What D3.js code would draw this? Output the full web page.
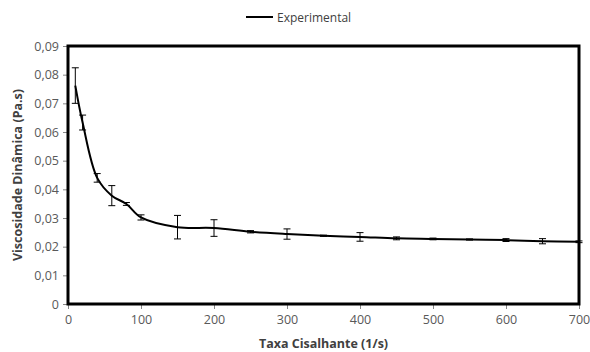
<!DOCTYPE html>
<html><head><meta charset="utf-8">
<script src="https://cdn.jsdelivr.net/npm/d3@7"></script>
<style>body{margin:0;background:#fff}svg{display:block}</style>
</head><body><svg id="c" width="590" height="352"></svg>
<script>
const shearRate = [10,20,40,60,80,100,150,200,250,300,350,400,450,500,550,600,650,700];
const viscosity = [0.0762,0.0633,0.0440,0.0378,0.0349,0.0302,0.0268,0.0265,0.0252,0.0244,0.0238,0.0234,0.0229,0.0227,0.0225,0.0223,0.0219,0.0217];
const errors = [0.0062,0.0026,0.0015,0.0035,0.0005,0.0009,0.0041,0.0029,0.0004,0.0018,0.0002,0.0015,0.0005,0.0003,0.0002,0.0005,0.0009,0.0003];
const xTicks = [0,100,200,300,400,500,600,700];
const yTicks = [0,0.01,0.02,0.03,0.04,0.05,0.06,0.07,0.08,0.09];
const seriesName = "Experimental";
const xTitle = "Taxa Cisalhante (1/s)";
const yTitle = "Viscosidade Dinâmica (Pa.s)";

const svg = d3.select("#c");
const L = 68, R = 579, T = 46, B = 304;
const x = d3.scaleLinear().domain([0,700]).range([L,R]);
const y = d3.scaleLinear().domain([0,0.09]).range([B,T]);
const font = "'Open Sans', 'Liberation Sans', sans-serif";
const fmt = d => d === 0 ? "0" : d3.format(".2f")(d).replace(".", ",");

const xa = svg.append("g").attr("transform",`translate(0,${B})`)
  .call(d3.axisBottom(x).tickValues(xTicks).tickSize(5).tickPadding(6).tickFormat(d3.format("d")));
const ya = svg.append("g").attr("transform",`translate(${L},0)`)
  .call(d3.axisLeft(y).tickValues(yTicks).tickSize(5).tickPadding(4).tickFormat(fmt));
[xa,ya].forEach(a=>{
  a.select(".domain").remove();
  a.selectAll(".tick line").attr("stroke","#868686");
  a.selectAll("text").attr("fill","#595959").style("font-family",font).style("font-size","12.5px");
});

svg.append("rect").attr("x",L).attr("y",T).attr("width",R-L).attr("height",B-T)
  .attr("fill","none").attr("stroke","#000").attr("stroke-width",3);

const data = shearRate.map((s,i)=>({s, v:viscosity[i], e:errors[i]}));
const eb = svg.append("g").attr("stroke","#000").attr("stroke-width",1);
data.forEach(d=>{
  const cx = x(d.s), y1 = y(d.v+d.e), y2 = y(d.v-d.e);
  eb.append("line").attr("x1",cx).attr("x2",cx).attr("y1",y1).attr("y2",y2);
  eb.append("line").attr("x1",cx-3.5).attr("x2",cx+3.5).attr("y1",y1).attr("y2",y1);
  eb.append("line").attr("x1",cx-3.5).attr("x2",cx+3.5).attr("y1",y2).attr("y2",y2);
});

const line = d3.line().x(d=>x(d.s)).y(d=>y(d.v)).curve(d3.curveCatmullRom.alpha(0.5));
svg.append("path").datum(data).attr("d",line).attr("fill","none").attr("stroke","#000").attr("stroke-width",2);

svg.append("line").attr("x1",246).attr("x2",273).attr("y1",17).attr("y2",17).attr("stroke","#000").attr("stroke-width",2);
svg.append("text").attr("x",277).attr("y",21.5).text(seriesName)
  .style("font-family",font).style("font-size","12px").attr("fill","#404040");

svg.append("text").attr("x",(L+R)/2).attr("y",348).attr("text-anchor","middle").text(xTitle)
  .style("font-family",font).style("font-size","12.5px").style("font-weight","bold").attr("fill","#404040");
svg.append("text").attr("transform",`translate(22,${(T+B)/2}) rotate(-90)`).attr("text-anchor","middle").text(yTitle)
  .style("font-family",font).style("font-size","12.5px").style("font-weight","bold").attr("fill","#404040");
</script></body></html>
